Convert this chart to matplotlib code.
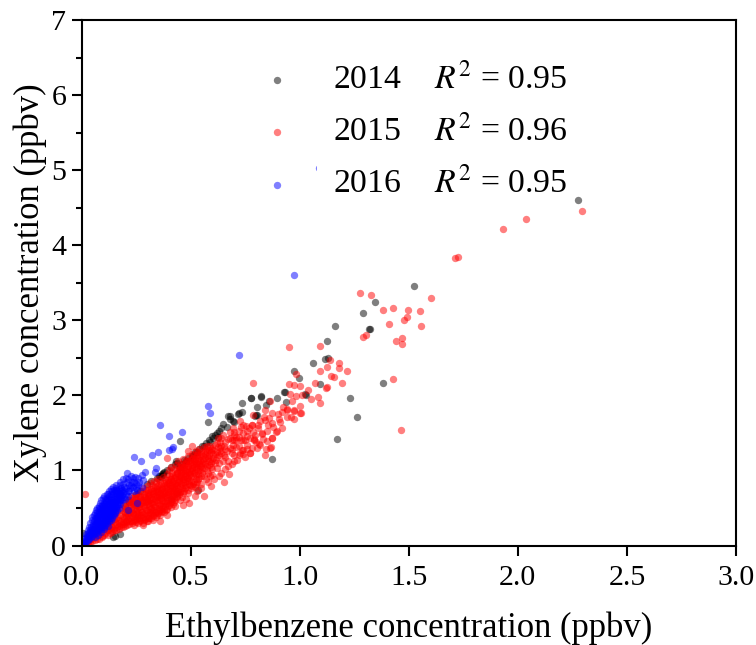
import numpy as np
import matplotlib.pyplot as plt
from matplotlib.patches import Rectangle

plt.rcParams["font.family"] = ["Liberation Serif", "DejaVu Serif"]
plt.rcParams["mathtext.fontset"] = "stix"

years = ["2014", "2015", "2016"]
r2_values = ["0.95", "0.96", "0.95"]

black_points = [
    (2.278, 4.60), (1.525, 3.46), (1.345, 3.24), (1.291, 3.10), (1.323, 2.89), (1.318, 2.88), (1.161, 2.93),
    (1.126, 2.72), (1.129, 2.50), (1.115, 2.48), (1.062, 2.43), (0.976, 2.33), (0.996, 2.23), (1.091, 2.15),
    (1.382, 2.17), (1.232, 1.97), (1.261, 1.71), (1.171, 1.42), (0.933, 2.04), (0.928, 2.05), (1.025, 2.02),
    (1.03, 2.01), (0.938, 1.91), (0.897, 1.96), (0.861, 1.93), (0.825, 1.99), (0.822, 1.98), (0.778, 1.96),
    (0.736, 1.90), (0.806, 1.85), (0.845, 1.87), (0.736, 1.78), (0.716, 1.75), (0.800, 1.74), (0.795, 1.73),
    (0.70, 1.65), (0.871, 1.15), (0.681, 1.73), (0.58, 1.65), (0.67, 1.73), (0.72, 1.76), (0.776, 1.96),
    (0.803, 1.74), (0.452, 1.39), (0.627, 1.45), (0.605, 1.43), (0.666, 1.58), (0.696, 1.66), (0.551, 1.32),
    (0.505, 1.19), (0.47, 1.14), (0.433, 1.13), (0.452, 1.04), (0.372, 0.94), (0.36, 0.92), (0.375, 0.96),
    (0.39, 1.01), (0.533, 0.74), (0.176, 0.15), (0.143, 0.11), (0.155, 0.13), (0.30, 0.82), (0.32, 0.86),
    (0.345, 0.90), (0.41, 1.04), (0.43, 1.08), (0.49, 1.17), (0.53, 1.25), (0.57, 1.36), (0.585, 1.40),
    (0.62, 1.50), (0.64, 1.56), (0.60, 1.46), (0.25, 0.68), (0.27, 0.73), (0.22, 0.58), (0.20, 0.52),
    (0.46, 1.08), (0.48, 1.12), (0.005, 0.16), (0.44, 0.70), (0.41, 0.62), (0.355, 0.93), (0.37, 0.95),
    (0.38, 0.98), (0.365, 0.91), (0.44, 1.10), (0.51, 1.21), (0.52, 1.24), (0.54, 1.28), (0.56, 1.33),
    (0.59, 1.38), (0.61, 1.47), (0.63, 1.53), (0.65, 1.62), (0.68, 1.69),
]

red_sparse = [
    (2.296, 4.46), (2.039, 4.35), (1.934, 4.21), (1.713, 3.83), (1.727, 3.84), (1.276, 3.37), (1.325, 3.34),
    (1.600, 3.30), (1.384, 3.14), (1.426, 3.17), (1.495, 3.14), (1.551, 3.13), (1.492, 3.04), (1.479, 3.01),
    (1.411, 2.95), (1.556, 2.93), (1.290, 2.78), (1.304, 2.80), (1.470, 2.77), (1.440, 2.72), (1.470, 2.69),
    (0.952, 2.65), (1.091, 2.66), (1.430, 2.22), (1.466, 1.54), (0.785, 2.16), (1.140, 2.47), (1.181, 2.43),
    (1.126, 2.38), (1.179, 2.36), (1.095, 2.33), (1.216, 2.33), (1.143, 2.26), (1.157, 2.25), (1.196, 2.17),
    (1.070, 2.17), (1.122, 2.10), (1.124, 2.11), (0.952, 2.15), (0.985, 2.28), (0.972, 2.14), (1.001, 2.12),
    (1.040, 2.07), (0.957, 2.02), (0.983, 1.99), (1.01, 2.01), (1.082, 1.98), (1.051, 1.95), (1.091, 1.90),
    (0.966, 1.92), (1.001, 1.86), (0.923, 1.85), (0.941, 1.82), (0.975, 1.80), (1.005, 1.76), (0.94, 1.71),
    (0.96, 1.71), (0.972, 1.68), (0.864, 1.92), (0.842, 1.81), (0.872, 1.76), (0.903, 1.68), (0.918, 1.56),
    (0.842, 1.67), (0.811, 1.61), (0.857, 1.60), (0.892, 1.51), (0.872, 1.43), (0.826, 1.49), (0.791, 1.41),
    (0.815, 1.35), (0.867, 1.31), (0.846, 1.28), (0.842, 1.21), (0.804, 1.30), (0.773, 1.23), (0.738, 1.27),
    (0.727, 1.23), (0.781, 1.61), (0.755, 1.59), (0.726, 1.66), (0.70, 1.51), (0.74, 1.50), (0.785, 1.51),
    (0.75, 1.40), (0.70, 1.40), (0.69, 1.29), (0.787, 1.74), (0.835, 1.71), (0.016, 0.68), (0.394, 1.17),
    (0.505, 1.33), (0.49, 1.26), (0.562, 0.66), (0.495, 0.57), (0.467, 0.54), (0.46, 0.64), (0.36, 0.32),
    (0.307, 0.32), (0.41, 0.51), (0.452, 0.60), (0.593, 0.79), (0.651, 0.85), (0.677, 0.95), (0.609, 0.88),
    (0.62, 1.03), (0.673, 1.12), (0.711, 1.14), (0.773, 1.23), (0.864, 1.30), (0.734, 1.27), (0.819, 1.34),
    (0.681, 1.43), (0.696, 1.34), (0.651, 1.21), (0.707, 1.45), (0.742, 1.61), (0.78, 1.61), (0.72, 1.52),
    (0.773, 1.43), (0.796, 1.47), (0.757, 1.34), (0.826, 1.50), (0.872, 1.63), (0.91, 1.65), (0.872, 1.43),
    (0.895, 1.52), (0.94, 1.81), (0.975, 1.79), (1.0, 1.76), (0.696, 1.56), (0.689, 1.23), (0.72, 1.21),
    (0.66, 1.02), (0.64, 0.96), (0.60, 1.02), (0.63, 1.10), (0.655, 1.32), (0.67, 1.42), (0.665, 1.26),
    (0.635, 1.38), (0.65, 1.47), (0.71, 1.31), (0.73, 1.40), (0.64, 1.23), (0.69, 1.08), (0.75, 1.18),
    (0.66, 1.18), (0.68, 1.30), (0.70, 1.20), (0.71, 1.40), (0.72, 1.33), (0.74, 1.41), (0.76, 1.46),
    (0.73, 1.58), (0.76, 1.52), (0.70, 1.47), (0.68, 1.51), (0.66, 1.38), (0.64, 1.33), (0.62, 1.18),
    (0.61, 1.10), (0.65, 1.12), (0.67, 1.06), (0.70, 1.13), (0.74, 1.22), (0.78, 1.30), (0.80, 1.38),
    (0.83, 1.42), (0.85, 1.52), (0.81, 1.56), (0.79, 1.42), (0.76, 1.28), (0.72, 1.44), (0.69, 1.40),
    (0.90, 1.75), (0.86, 1.70), (0.82, 1.66), (0.77, 1.56), (0.92, 1.78), (0.88, 1.58), (0.85, 1.39),
    (0.63, 0.93), (0.58, 0.84), (0.55, 0.76), (0.52, 0.66), (0.48, 0.62), (0.43, 0.52), (0.39, 0.41),
    (0.33, 0.34), (0.28, 0.27), (0.53, 0.72), (0.60, 0.94), (0.66, 1.28), (0.62, 1.36), (0.64, 1.43),
]

red_dense = [
    (0.02, 0.02), (0.025, 0.05), (0.03, 0.03), (0.035, 0.07), (0.04, 0.04), (0.045, 0.09), (0.05, 0.06),
    (0.055, 0.12), (0.06, 0.07), (0.062, 0.16), (0.07, 0.08), (0.072, 0.13), (0.075, 0.20), (0.08, 0.09),
    (0.085, 0.15), (0.088, 0.24), (0.095, 0.11), (0.10, 0.18), (0.102, 0.28), (0.105, 0.14), (0.11, 0.23),
    (0.112, 0.33), (0.12, 0.14), (0.122, 0.20), (0.118, 0.27), (0.125, 0.37), (0.13, 0.17), (0.133, 0.24),
    (0.128, 0.31), (0.14, 0.18), (0.142, 0.25), (0.138, 0.33), (0.145, 0.41), (0.15, 0.20), (0.152, 0.27),
    (0.148, 0.35), (0.155, 0.45), (0.16, 0.21), (0.162, 0.28), (0.158, 0.36), (0.165, 0.44), (0.17, 0.22),
    (0.172, 0.30), (0.168, 0.38), (0.175, 0.47), (0.18, 0.24), (0.183, 0.32), (0.178, 0.40), (0.185, 0.50),
    (0.19, 0.24), (0.192, 0.31), (0.188, 0.38), (0.195, 0.45), (0.19, 0.54), (0.20, 0.26), (0.203, 0.33),
    (0.198, 0.41), (0.205, 0.48), (0.20, 0.57), (0.21, 0.27), (0.213, 0.35), (0.208, 0.43), (0.215, 0.52),
    (0.212, 0.61), (0.22, 0.28), (0.223, 0.36), (0.218, 0.44), (0.225, 0.51), (0.22, 0.60), (0.228, 0.66),
    (0.23, 0.30), (0.233, 0.38), (0.228, 0.46), (0.235, 0.55), (0.232, 0.63), (0.24, 0.27), (0.243, 0.34),
    (0.238, 0.42), (0.245, 0.50), (0.24, 0.58), (0.247, 0.67), (0.25, 0.31), (0.253, 0.38), (0.248, 0.46),
    (0.255, 0.54), (0.25, 0.62), (0.257, 0.70), (0.26, 0.30), (0.263, 0.37), (0.258, 0.44), (0.265, 0.51),
    (0.26, 0.59), (0.267, 0.66), (0.27, 0.33), (0.273, 0.41), (0.268, 0.49), (0.275, 0.56), (0.27, 0.64),
    (0.277, 0.72), (0.28, 0.30), (0.283, 0.38), (0.278, 0.45), (0.285, 0.53), (0.28, 0.60), (0.287, 0.68),
    (0.282, 0.77), (0.29, 0.35), (0.293, 0.43), (0.288, 0.51), (0.295, 0.58), (0.29, 0.65), (0.297, 0.74),
    (0.30, 0.33), (0.303, 0.40), (0.298, 0.47), (0.305, 0.55), (0.30, 0.62), (0.307, 0.70), (0.302, 0.79),
    (0.31, 0.37), (0.313, 0.45), (0.308, 0.52), (0.315, 0.60), (0.31, 0.67), (0.317, 0.75), (0.312, 0.83),
    (0.32, 0.36), (0.323, 0.43), (0.318, 0.50), (0.325, 0.57), (0.32, 0.65), (0.327, 0.72), (0.322, 0.80),
    (0.33, 0.40), (0.333, 0.47), (0.328, 0.55), (0.335, 0.62), (0.33, 0.70), (0.337, 0.78), (0.332, 0.86),
    (0.34, 0.38), (0.343, 0.45), (0.338, 0.52), (0.345, 0.60), (0.34, 0.67), (0.347, 0.75), (0.342, 0.84),
    (0.35, 0.43), (0.353, 0.50), (0.348, 0.58), (0.355, 0.65), (0.35, 0.72), (0.357, 0.80), (0.352, 0.88),
    (0.36, 0.41), (0.363, 0.48), (0.358, 0.55), (0.365, 0.63), (0.36, 0.70), (0.367, 0.77), (0.362, 0.86),
    (0.37, 0.46), (0.373, 0.53), (0.368, 0.61), (0.375, 0.68), (0.37, 0.75), (0.377, 0.83), (0.372, 0.91),
    (0.38, 0.44), (0.383, 0.52), (0.378, 0.59), (0.385, 0.66), (0.38, 0.73), (0.387, 0.81), (0.382, 0.89),
    (0.39, 0.49), (0.393, 0.57), (0.388, 0.64), (0.395, 0.71), (0.39, 0.79), (0.397, 0.87), (0.392, 0.95),
    (0.40, 0.54), (0.403, 0.61), (0.398, 0.69), (0.405, 0.76), (0.40, 0.84), (0.407, 0.92), (0.402, 1.00),
    (0.41, 0.58), (0.413, 0.66), (0.408, 0.73), (0.415, 0.81), (0.41, 0.89), (0.417, 0.97), (0.412, 1.05),
    (0.42, 0.55), (0.423, 0.63), (0.418, 0.71), (0.425, 0.78), (0.42, 0.86), (0.427, 0.94), (0.422, 1.02),
    (0.43, 0.60), (0.433, 0.68), (0.428, 0.75), (0.435, 0.83), (0.43, 0.91), (0.437, 0.99), (0.432, 1.07),
    (0.44, 0.66), (0.443, 0.73), (0.438, 0.81), (0.445, 0.88), (0.44, 0.96), (0.447, 1.04), (0.442, 1.12),
    (0.45, 0.71), (0.453, 0.79), (0.448, 0.86), (0.455, 0.94), (0.45, 1.01), (0.457, 1.09), (0.46, 0.76),
    (0.463, 0.84), (0.458, 0.91), (0.465, 0.99), (0.46, 1.06), (0.467, 1.15), (0.47, 0.72), (0.473, 0.81),
    (0.468, 0.89), (0.475, 0.97), (0.47, 1.05), (0.477, 1.12), (0.48, 0.78), (0.483, 0.86), (0.478, 0.94),
    (0.485, 1.02), (0.48, 1.10), (0.487, 1.19), (0.49, 0.70), (0.493, 0.82), (0.488, 0.90), (0.495, 0.98),
    (0.49, 1.06), (0.497, 1.14), (0.50, 0.76), (0.503, 0.86), (0.498, 0.95), (0.505, 1.03), (0.50, 1.11),
    (0.507, 1.22), (0.51, 0.82), (0.513, 0.92), (0.508, 1.00), (0.515, 1.08), (0.51, 1.17), (0.52, 0.78),
    (0.523, 0.88), (0.518, 0.98), (0.525, 1.07), (0.52, 1.15), (0.527, 1.26), (0.53, 0.85), (0.533, 0.95),
    (0.528, 1.04), (0.535, 1.12), (0.53, 1.21), (0.54, 0.90), (0.543, 1.00), (0.538, 1.10), (0.545, 1.19),
    (0.54, 1.28), (0.55, 0.82), (0.553, 0.96), (0.548, 1.06), (0.555, 1.15), (0.55, 1.25), (0.56, 0.92),
    (0.563, 1.03), (0.558, 1.13), (0.565, 1.22), (0.56, 1.31), (0.57, 0.88), (0.573, 1.00), (0.568, 1.10),
    (0.575, 1.19), (0.57, 1.29), (0.58, 0.96), (0.583, 1.07), (0.578, 1.17), (0.585, 1.27), (0.59, 0.93),
    (0.593, 1.04), (0.588, 1.15), (0.595, 1.25), (0.59, 1.33), (0.60, 1.12), (0.605, 1.22), (0.598, 1.30),
    (0.615, 1.14), (0.62, 1.25), (0.61, 1.34), (0.63, 1.20), (0.635, 1.30), (0.625, 1.43),
]

# second pass over the solid part of the red band
red_fill = [
    (0.092, 0.13), (0.108, 0.16), (0.115, 0.21), (0.127, 0.23), (0.135, 0.20), (0.147, 0.22), (0.153, 0.31),
    (0.163, 0.25), (0.174, 0.26), (0.186, 0.28), (0.197, 0.29), (0.206, 0.31), (0.216, 0.32), (0.226, 0.33),
    (0.236, 0.32), (0.246, 0.36), (0.256, 0.35), (0.266, 0.34), (0.276, 0.36), (0.286, 0.34), (0.296, 0.38),
    (0.306, 0.36), (0.316, 0.41), (0.326, 0.39), (0.336, 0.43), (0.346, 0.41), (0.356, 0.46), (0.366, 0.44),
    (0.376, 0.49), (0.386, 0.47), (0.396, 0.52), (0.406, 0.56), (0.416, 0.60), (0.426, 0.58), (0.436, 0.64),
    (0.446, 0.68), (0.456, 0.73), (0.466, 0.70), (0.476, 0.76), (0.486, 0.74), (0.496, 0.80), (0.506, 0.79),
    (0.516, 0.85), (0.526, 0.82), (0.536, 0.88), (0.546, 0.93), (0.194, 0.35), (0.204, 0.38), (0.214, 0.40),
    (0.224, 0.42), (0.234, 0.43), (0.244, 0.40), (0.254, 0.42), (0.264, 0.41), (0.274, 0.44), (0.284, 0.42),
    (0.294, 0.47), (0.304, 0.44), (0.314, 0.49), (0.324, 0.47), (0.334, 0.51), (0.344, 0.49), (0.354, 0.54),
    (0.364, 0.52), (0.374, 0.57), (0.384, 0.56), (0.394, 0.61), (0.404, 0.65), (0.414, 0.69), (0.424, 0.67),
    (0.434, 0.72), (0.444, 0.77), (0.454, 0.82), (0.464, 0.80), (0.474, 0.85), (0.484, 0.90), (0.494, 0.86),
    (0.504, 0.91), (0.514, 0.96), (0.524, 0.94), (0.534, 0.99), (0.544, 1.05), (0.554, 1.02), (0.564, 1.09),
    (0.574, 1.06), (0.584, 1.13), (0.594, 1.10), (0.604, 1.17), (0.614, 1.22), (0.624, 1.31), (0.634, 1.26),
    (0.214, 0.47), (0.224, 0.55), (0.234, 0.49), (0.244, 0.54), (0.254, 0.49), (0.264, 0.55), (0.274, 0.52),
    (0.284, 0.58), (0.294, 0.54), (0.304, 0.59), (0.314, 0.56), (0.324, 0.62), (0.334, 0.58), (0.344, 0.64),
    (0.354, 0.61), (0.364, 0.67), (0.374, 0.64), (0.384, 0.70), (0.394, 0.67), (0.404, 0.72), (0.414, 0.77),
    (0.424, 0.74), (0.434, 0.80), (0.444, 0.85), (0.454, 0.90), (0.464, 0.88), (0.474, 0.93), (0.484, 0.98),
    (0.494, 0.94), (0.504, 0.99), (0.514, 1.04), (0.524, 1.02), (0.534, 1.08), (0.544, 1.14), (0.554, 1.10),
    (0.564, 1.17), (0.574, 1.24), (0.584, 1.21), (0.594, 1.29), (0.604, 1.27), (0.236, 0.60), (0.246, 0.63),
    (0.256, 0.58), (0.266, 0.62), (0.276, 0.60), (0.286, 0.64), (0.296, 0.61), (0.306, 0.66), (0.316, 0.63),
    (0.326, 0.68), (0.336, 0.66), (0.346, 0.71), (0.356, 0.69), (0.366, 0.74), (0.376, 0.71), (0.386, 0.77),
    (0.396, 0.75), (0.406, 0.80), (0.416, 0.85), (0.426, 0.82), (0.436, 0.88), (0.446, 0.92), (0.456, 0.98),
    (0.466, 0.95), (0.476, 1.01), (0.486, 1.06), (0.496, 1.02), (0.506, 1.07), (0.516, 1.12), (0.526, 1.10),
    (0.536, 1.16), (0.546, 1.22), (0.556, 1.19), (0.566, 1.26), (0.576, 1.32), (0.296, 0.70), (0.306, 0.74),
    (0.316, 0.71), (0.326, 0.77), (0.336, 0.73), (0.346, 0.79), (0.356, 0.76), (0.366, 0.82), (0.376, 0.79),
    (0.386, 0.85), (0.396, 0.83), (0.406, 0.88), (0.416, 0.93), (0.426, 0.90), (0.436, 0.96), (0.446, 1.00),
    (0.456, 1.05), (0.466, 1.03), (0.476, 1.08), (0.486, 1.13), (0.496, 1.10), (0.506, 1.15), (0.516, 1.20),
    (0.526, 1.18), (0.536, 1.24), (0.13, 0.28), (0.17, 0.34), (0.20, 0.44), (0.23, 0.58), (0.26, 0.67),
]

blue_sparse = [
    (0.972, 3.60), (0.721, 2.54), (1.09, 5.03), (0.58, 1.86), (0.59, 1.76), (0.361, 1.60), (0.40, 1.46),
    (0.46, 1.51), (0.414, 1.29), (0.421, 1.31), (0.403, 1.27), (0.322, 1.21), (0.352, 1.24), (0.242, 1.18),
    (0.271, 1.13), (0.342, 1.03), (0.337, 0.98), (0.21, 0.97), (0.291, 0.98), (0.276, 0.94), (0.261, 0.90),
    (0.246, 0.91), (0.283, 0.87), (0.276, 0.78), (0.253, 0.74), (0.253, 0.56), (0.215, 0.47), (0.25, 0.82),
    (0.265, 0.84), (0.235, 0.78),
]

blue_dense = [
    (0.005, 0.01), (0.008, 0.03), (0.012, 0.02), (0.012, 0.06), (0.018, 0.04), (0.018, 0.09), (0.022, 0.05),
    (0.024, 0.12), (0.028, 0.07), (0.03, 0.11), (0.03, 0.16), (0.035, 0.09), (0.036, 0.14), (0.037, 0.20),
    (0.042, 0.11), (0.043, 0.16), (0.044, 0.24), (0.05, 0.13), (0.05, 0.19), (0.052, 0.28), (0.058, 0.15),
    (0.057, 0.22), (0.058, 0.32), (0.065, 0.16), (0.064, 0.24), (0.066, 0.30), (0.066, 0.37), (0.072, 0.18),
    (0.072, 0.25), (0.073, 0.33), (0.073, 0.41), (0.08, 0.20), (0.079, 0.27), (0.08, 0.35), (0.081, 0.44),
    (0.088, 0.22), (0.087, 0.30), (0.088, 0.38), (0.087, 0.48), (0.095, 0.24), (0.094, 0.31), (0.095, 0.40),
    (0.096, 0.47), (0.095, 0.53), (0.102, 0.25), (0.102, 0.33), (0.101, 0.41), (0.103, 0.49), (0.102, 0.57),
    (0.11, 0.27), (0.109, 0.35), (0.11, 0.43), (0.109, 0.51), (0.111, 0.60), (0.118, 0.30), (0.117, 0.38),
    (0.118, 0.46), (0.117, 0.54), (0.119, 0.63), (0.125, 0.32), (0.124, 0.40), (0.126, 0.48), (0.125, 0.56),
    (0.126, 0.66), (0.133, 0.34), (0.132, 0.42), (0.133, 0.50), (0.134, 0.58), (0.133, 0.69), (0.14, 0.37),
    (0.14, 0.45), (0.141, 0.53), (0.139, 0.61), (0.141, 0.72), (0.148, 0.40), (0.147, 0.48), (0.148, 0.56),
    (0.149, 0.64), (0.148, 0.74), (0.155, 0.43), (0.156, 0.51), (0.155, 0.59), (0.156, 0.68), (0.157, 0.76),
    (0.163, 0.47), (0.163, 0.55), (0.164, 0.63), (0.163, 0.72), (0.171, 0.50), (0.17, 0.58), (0.171, 0.66),
    (0.172, 0.75), (0.176, 0.80), (0.178, 0.55), (0.179, 0.62), (0.178, 0.70), (0.18, 0.76), (0.186, 0.60),
    (0.187, 0.67), (0.186, 0.74), (0.192, 0.82), (0.194, 0.65), (0.195, 0.72), (0.196, 0.78), (0.205, 0.68),
    (0.205, 0.76), (0.207, 0.84), (0.215, 0.72), (0.218, 0.80), (0.224, 0.76), (0.23, 0.85), (0.215, 0.88),
    (0.06, 0.11), (0.09, 0.18), (0.12, 0.26), (0.075, 0.14), (0.105, 0.22), (0.015, 0.03), (0.026, 0.09),
    (0.034, 0.12), (0.04, 0.18), (0.047, 0.22), (0.054, 0.17), (0.055, 0.26), (0.062, 0.20), (0.062, 0.28),
    (0.069, 0.22), (0.07, 0.30), (0.07, 0.37), (0.076, 0.24), (0.077, 0.31), (0.077, 0.39), (0.084, 0.25),
    (0.084, 0.33), (0.085, 0.42), (0.091, 0.27), (0.091, 0.35), (0.091, 0.44), (0.099, 0.29), (0.098, 0.37),
    (0.099, 0.45), (0.099, 0.52), (0.106, 0.31), (0.106, 0.39), (0.106, 0.47), (0.106, 0.55), (0.114, 0.33),
    (0.114, 0.41), (0.114, 0.49), (0.114, 0.58), (0.122, 0.35), (0.121, 0.43), (0.122, 0.52), (0.122, 0.60),
    (0.129, 0.37), (0.129, 0.45), (0.129, 0.53), (0.129, 0.62), (0.137, 0.40), (0.136, 0.48), (0.137, 0.56),
    (0.137, 0.65), (0.144, 0.42), (0.144, 0.50), (0.144, 0.58), (0.144, 0.68), (0.152, 0.46), (0.152, 0.54),
    (0.152, 0.62), (0.152, 0.71), (0.16, 0.50), (0.16, 0.58), (0.16, 0.66), (0.16, 0.74), (0.168, 0.54),
    (0.167, 0.62), (0.168, 0.70), (0.175, 0.60), (0.175, 0.68), (0.183, 0.64), (0.183, 0.72), (0.19, 0.70),
]

# upper edge of the blue wedge
blue_edge = [
    (0.016, 0.10), (0.022, 0.15), (0.028, 0.20), (0.033, 0.25), (0.04, 0.30), (0.046, 0.34), (0.05, 0.38),
    (0.056, 0.41), (0.062, 0.43), (0.066, 0.47), (0.072, 0.50), (0.078, 0.53), (0.084, 0.56), (0.09, 0.60),
    (0.098, 0.63), (0.105, 0.66), (0.115, 0.68), (0.124, 0.72), (0.134, 0.75), (0.145, 0.78), (0.16, 0.80),
    (0.176, 0.84), (0.19, 0.88), (0.205, 0.90), (0.225, 0.92), (0.235, 0.90), (0.06, 0.36), (0.072, 0.44),
    (0.082, 0.50), (0.092, 0.54), (0.108, 0.62), (0.12, 0.68), (0.20, 0.62), (0.212, 0.66), (0.22, 0.72),
    (0.228, 0.80), (0.24, 0.72), (0.24, 0.84), (0.25, 0.76), (0.258, 0.80),
]

black_x, black_y = np.array(black_points).T
red_x, red_y = np.array(red_sparse + red_dense + red_fill).T
blue_x, blue_y = np.array(blue_sparse + blue_dense + blue_edge).T

fig = plt.figure(figsize=(7.56, 6.45), dpi=100)
ax = fig.add_axes([81.5 / 756, 1 - 545.5 / 645, (736 - 81.5) / 756, (545.5 - 20) / 645])

style = dict(s=28, alpha=0.5, linewidths=0)
h14 = ax.scatter(black_x, black_y, color="black", zorder=2, **style)
h15 = ax.scatter(red_x, red_y, color="red", zorder=2, **style)
h16 = ax.scatter(blue_x, blue_y, color="blue", zorder=2, **style)

# white box behind the legend text hides part of one blue point
ax.add_patch(Rectangle((0.36, 0.69), 0.41, 0.28, transform=ax.transAxes, fc="white", ec="none", zorder=3))

labels = [f"{y}    $\\mathit{{R}}^2$ = {r}" for y, r in zip(years, r2_values)]
leg = ax.legend(
    [h14, h15, h16], labels, loc="upper left", bbox_to_anchor=(0.221, 0.949), frameon=False,
    fontsize=24.3, handletextpad=0.68, labelspacing=0.6, borderpad=0, scatterpoints=1,
)
leg.set_zorder(5)

ax.set_xlim(0, 3)
ax.set_ylim(0, 7)
ax.set_xticks([0, 0.5, 1, 1.5, 2, 2.5, 3])
ax.set_xticklabels(["0.0", "0.5", "1.0", "1.5", "2.0", "2.5", "3.0"])
ax.set_yticks(range(8))
ax.set_yticks(np.arange(0.5, 7, 1), minor=True)
ax.tick_params(axis="x", which="major", direction="out", length=7, width=1.5, labelsize=21.5, pad=7)
ax.tick_params(axis="y", which="major", direction="out", length=7, width=1.5, labelsize=21.5, pad=4)
ax.tick_params(axis="y", which="minor", direction="out", length=4, width=1.5)
for spine in ax.spines.values():
    spine.set_linewidth(1.5)

ax.set_xlabel("Ethylbenzene concentration (ppbv)", fontsize=24.9, labelpad=15)
ax.set_ylabel("Xylene concentration (ppbv)", fontsize=24.9, labelpad=3)

fig.savefig("out.png", dpi=100)
plt.close(fig)
